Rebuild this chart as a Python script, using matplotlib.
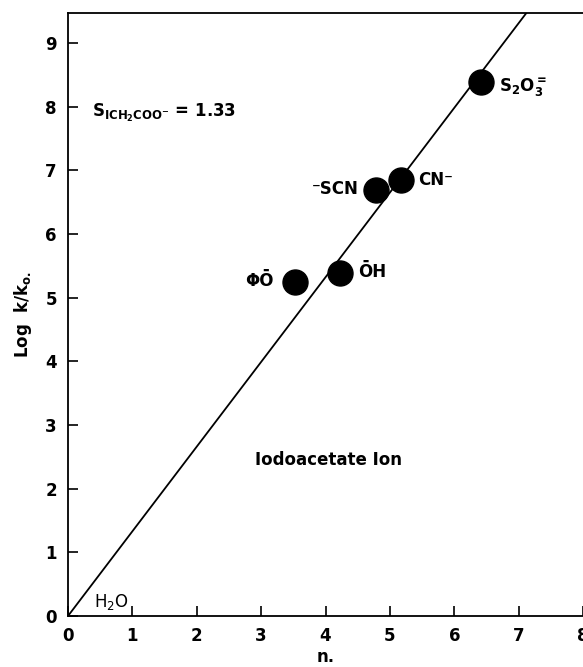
import matplotlib
matplotlib.use("Agg")
import matplotlib.pyplot as plt
import numpy as np

plt.rcParams['font.family'] = ['DejaVu Sans']
plt.rcParams['mathtext.default'] = 'regular'

# Data
nucleophiles = ['ΦŌ', 'ŌH', '⁻SCN', 'CN⁻', 'S$_2$O$_3^{=}$']
n_values = [3.52, 4.22, 4.79, 5.18, 6.42]
log_k = [5.24, 5.39, 6.69, 6.84, 8.39]
slope_s = 1.33
x_ticks = [0, 1, 2, 3, 4, 5, 6, 7, 8]
y_ticks = [0, 1, 2, 3, 4, 5, 6, 7, 8, 9]

fig = plt.figure(figsize=(5.83, 6.67), dpi=100)
ax = fig.add_axes([68/583, 51/667, (583-68)/583, (616-13)/667])

xl = np.array([0, 8])
ax.plot(xl, slope_s * xl, color='black', lw=1.3, zorder=2)
ax.plot(n_values, log_k, 'o', color='black', markersize=18, zorder=3)

offsets = [(-0.32, 0.02, 'right'), (0.28, 0.02, 'left'), (-0.28, 0.02, 'right'),
           (0.26, 0.0, 'left'), (0.28, -0.07, 'left')]
for lab, x, y, (dx, dy, ha) in zip(nucleophiles, n_values, log_k, offsets):
    ax.text(x + dx, y + dy, lab, ha=ha, va='center', fontsize=12, fontweight='bold')

ax.text(0.37, 7.9, 'S$_{ICH_2COO^{-}}$ = 1.33', fontsize=12, fontweight='bold', va='center')
ax.text(2.9, 2.45, 'Iodoacetate Ion', fontsize=12, fontweight='bold', va='center')
ax.text(0.4, 0.22, 'H$_2$O', fontsize=12, va='center')

ax.set_xlim(0, 8)
ax.set_ylim(0, 9.47)
ax.set_xticks(x_ticks)
ax.set_yticks(y_ticks)
ax.tick_params(direction='in', length=7, width=1.2, labelsize=12)
ax.tick_params(axis='x', pad=8)
ax.tick_params(axis='y', pad=8)
for t in ax.get_xticklabels() + ax.get_yticklabels():
    t.set_fontweight('bold')
ax.spines['right'].set_visible(False)
for s in ['left', 'bottom', 'top']:
    ax.spines[s].set_linewidth(1.3)

ax.set_xlabel('n.', fontsize=12, fontweight='bold', labelpad=2)
ax.set_ylabel('Log  k/k$_{o.}$', fontsize=12, fontweight='bold', labelpad=8)

fig.savefig('out.png', dpi=100)
